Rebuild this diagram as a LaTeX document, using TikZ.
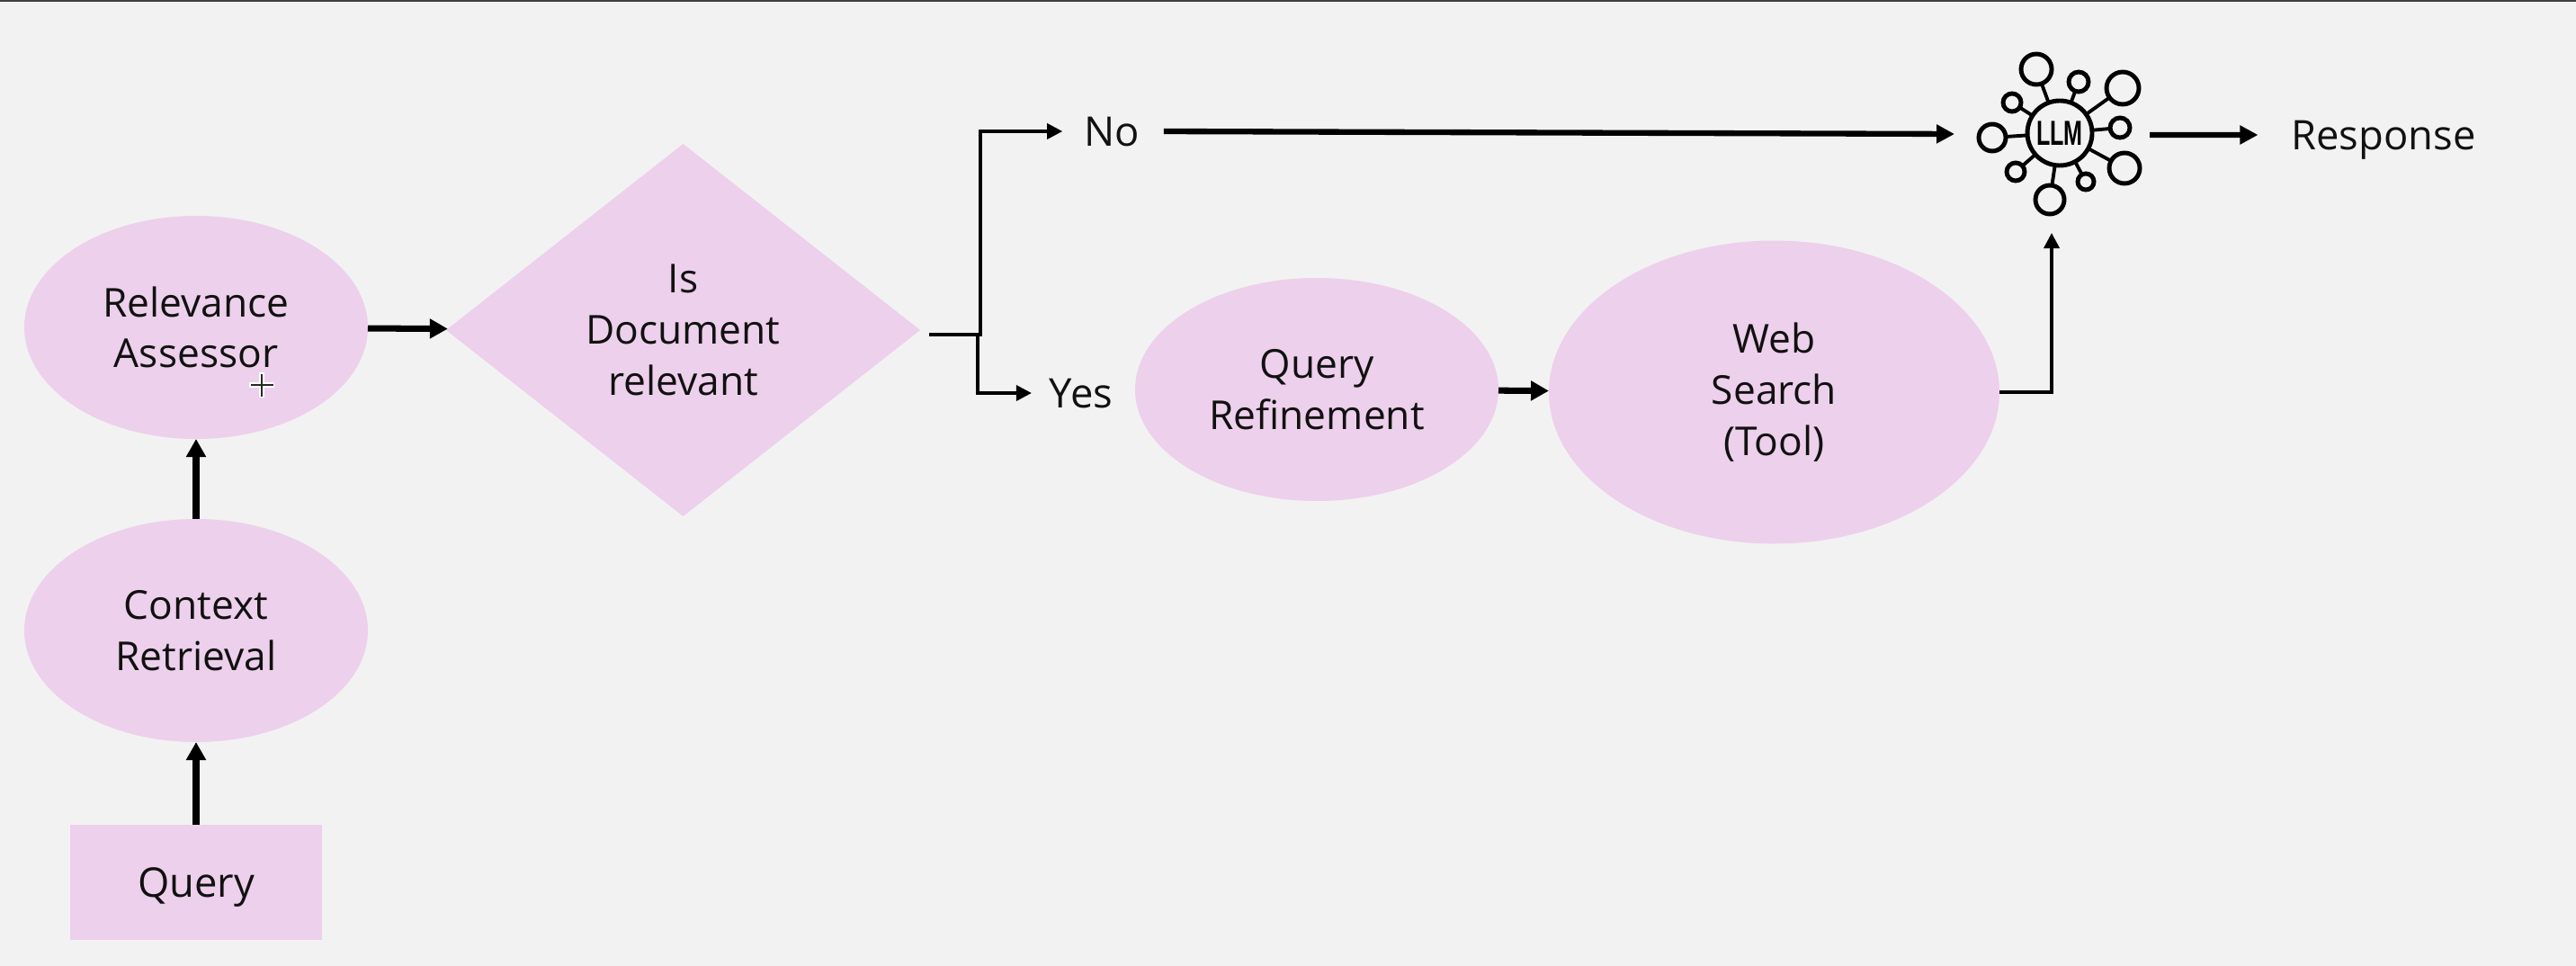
\documentclass[tikz,border=0pt]{standalone}
\usepackage{fontspec}
\usepackage{graphicx}
\setmainfont{Open Sans}
\newfontfamily\llmfont{Liberation Sans}
\usetikzlibrary{shapes,positioning,arrows.meta,backgrounds}
\definecolor{pagegray}{HTML}{F2F2F2}
\definecolor{blockpink}{HTML}{EDD0EB}
\definecolor{inkblack}{HTML}{111111}
\tikzset{
    blob/.style={ellipse,fill=blockpink,inner sep=0pt,outer sep=0pt,align=center,text=inkblack,
        font=\fontsize{12.6}{16.15}\selectfont},
    tag/.style={inner sep=0pt,outer sep=0pt,text=inkblack,text depth=0pt,font=\fontsize{12.9}{16.15}\selectfont},
    heavy/.style={line width=2pt,-{Triangle[length=.2cm,width=.21cm]}},
    light/.style={line width=1pt,-{Triangle[length=.17cm,width=.17cm]}},
    hub/.style={circle,draw,line width=1.4pt,inner sep=0pt,outer sep=0pt,minimum size=.72cm},
    ring/.style={circle,draw,line width=1.4pt,inner sep=0pt,outer sep=0pt},
}
\begin{document}
    \begin{tikzpicture}[x=1cm,y=1cm]
        \useasboundingbox (0,0) rectangle (28.64,-10.74);
        \fill[pagegray] (0,0) rectangle (28.64,-10.74);
        \draw[line width=1.2pt,black!75] (0,0) -- (28.64,0);
        \node[tag,fill=blockpink,minimum width=2.8cm,minimum height=1.28cm] (query) at (2.18,-9.81) {Query};
        \node[blob,minimum width=3.82cm,minimum height=2.48cm,above=.92cm of query] (context) {Context\\Retrieval};
        \node[blob,minimum width=3.82cm,minimum height=2.48cm,above=.89cm of context] (assessor) {Relevance\\Assessor};
        \node[blob,diamond,aspect=1.27,minimum width=5.27cm,minimum height=4.14cm,right=.87cm of assessor,yshift=-.03cm] (relevant) {Is\\Document\\relevant};
        \node[blob,minimum width=4.04cm,minimum height=2.48cm] (refine) at (14.64,-4.33) {Query\\Refinement};
        \node[blob,minimum width=5.01cm,minimum height=3.37cm,right=.56cm of refine,yshift=-.03cm] (web) {Web\\Search\\(Tool)};
        \node[tag] (no) at (12.36,-1.46) {No};
        \node[tag] (yes) at (12.02,-4.37) {Yes};
        \node[tag] (response) at (26.5,-1.5) {Response};
        \node[hub] (llm) at (22.9,-1.48) {\llmfont\bfseries\fontsize{11}{11}\selectfont\scalebox{.65}[1]{LLM}};
        \foreach \sx/\sy/\sd [count=\i] in {22.64/-.77/.34,23.11/-.91/.22,23.6/-.98/.36,23.57/-1.42/.22,23.62/-1.87/.34,
            23.19/-2.02/.18,22.79/-2.22/.32,22.41/-1.91/.2,22.15/-1.53/.3,22.37/-1.14/.2}{
            \node[ring,minimum size=\sd cm] (sat\i) at (\sx,\sy) {};
            \draw[line width=1.1pt] (llm) -- (sat\i);
        }
        \coordinate (splitin) at (10.33,-3.72);
        \coordinate (llmin) at (22.81,-2.59);
        \draw[heavy] (query) -- (context);
        \draw[heavy] (context) -- (assessor);
        \draw[heavy] (assessor) -- (relevant);
        \draw[heavy] (refine) -- (web);
        \draw[light] (splitin) -- ++(.57,0) |- ([xshift=-.24cm]no.west);
        \draw[light] (splitin) -- ++(.54,0) |- ([xshift=-.2cm]yes.west);
        \draw[line width=1.8pt,-{Triangle[length=.2cm,width=.2cm]}] ([xshift=.27cm]no.east) -- ([xshift=-.81cm,yshift=-.01cm]llm.west);
        \draw[light] (web) -| (llmin);
        \draw[line width=1.8pt,-{Triangle[length=.2cm,width=.2cm]},shorten <=.64cm] ([yshift=-.02cm]llm.east) -- ([xshift=-.37cm]response.west);
        \coordinate (cursor) at (2.91,-4.28);
        \foreach \dx/\dy in {.14/0,0/.14}{
            \draw[white,line width=1.6pt] ([xshift=-\dx cm,yshift=-\dy cm]cursor) -- ([xshift=\dx cm,yshift=\dy cm]cursor);
        }
        \foreach \dx/\dy in {.125/0,0/.125}{
            \draw[black!85,line width=.5pt] ([xshift=-\dx cm,yshift=-\dy cm]cursor) -- ([xshift=\dx cm,yshift=\dy cm]cursor);
        }
    \end{tikzpicture}
\end{document}
